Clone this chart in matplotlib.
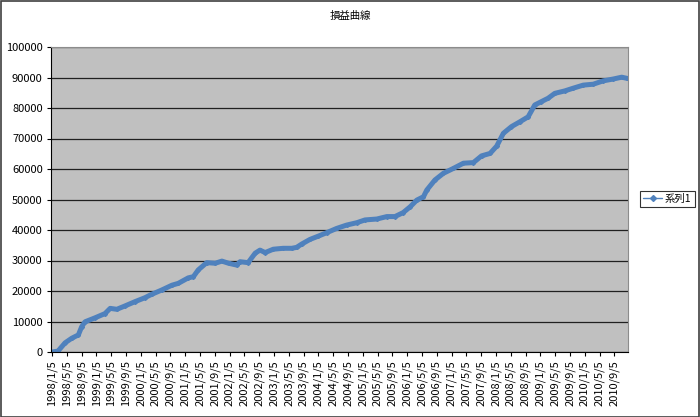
import matplotlib
matplotlib.use('Agg')
import matplotlib.pyplot as plt
from matplotlib.patches import Rectangle

# Equity curve readings: month offset from 1998/1 and cumulative profit
months = [0.0, 1.6, 3.5, 5.3, 7.1, 8.0, 8.9, 11.6, 14.3, 15.7, 17.5, 19.7,
          22.4, 25.1, 26.9, 29.6, 32.4, 34.1, 36.8, 38.2, 39.5, 41.8, 44.1,
          45.9, 47.7, 49.9, 50.8, 53.0, 54.9, 56.2, 57.6, 59.8, 62.5, 64.8,
          66.1, 67.5, 69.7, 72.0, 74.2, 76.9, 79.6, 82.4, 84.6, 87.8, 90.5,
          92.7, 94.9, 96.8, 98.6, 100.4, 101.3, 103.5, 105.8, 108.5, 111.2,
          113.9, 116.1, 118.4, 120.2, 122.0, 124.2, 126.5, 128.7, 130.5,
          132.3, 134.1, 135.9, 138.6, 140.9, 143.6, 146.3, 149.0, 151.7,
          154.0, 155.5]
profit = [0, 300, 3000, 4500, 5600, 8300, 9900, 11200, 12600, 14300, 14000,
          15100, 16500, 17800, 18900, 20300, 21900, 22500, 24300, 24700,
          26900, 29300, 29100, 29800, 29100, 28500, 29600, 29300, 32400,
          33400, 32600, 33700, 34000, 34000, 34300, 35400, 36900, 38000,
          39100, 40500, 41600, 42400, 43300, 43600, 44400, 44400, 45700,
          47600, 49800, 50900, 53100, 56400, 58600, 60200, 61900, 62100,
          64300, 65100, 67500, 71700, 73900, 75500, 77100, 81000, 82100,
          83200, 84800, 85600, 86500, 87500, 87800, 88900, 89500, 90100,
          89700]

# Category labels every 4 months
tick_months = list(range(0, 153, 4))
tick_labels = [f'{1998 + m // 12}/{m % 12 + 1}/5' for m in tick_months]
y_ticks = list(range(0, 100001, 10000))

plt.rcParams['font.family'] = ['Noto Sans CJK JP', 'DejaVu Sans']

fig = plt.figure(figsize=(7.0, 4.17), dpi=100)
ax = fig.add_axes([51 / 700, 1 - 352 / 417, 577 / 700, 305 / 417])

ax.set_facecolor('#c0c0c0')
ax.plot(months, profit, color='#4f81bd', linewidth=3.6, marker='D',
        markersize=2, label='系列1', solid_joinstyle='round',
        solid_capstyle='round')

ax.set_xlim(-0.3, 155.7)
ax.set_ylim(0, 100000)
ax.set_yticks(y_ticks)
ax.set_yticklabels([str(v) for v in y_ticks], fontsize=8)
ax.set_xticks(tick_months)
ax.set_xticklabels(tick_labels, rotation=90, fontsize=8)
ax.tick_params(axis='both', direction='out', length=3, width=0.8,
               color='black', pad=3)

ax.grid(axis='y', color='#202020', linewidth=0.9)
ax.set_axisbelow(True)
for side in ['top', 'right']:
    ax.spines[side].set_color('#8c8c8c')
for side in ['left', 'bottom']:
    ax.spines[side].set_color('black')

fig.text(0.5, 1 - 16 / 417, '損益曲線', ha='center', va='center', fontsize=7.5)

leg = fig.legend(loc='center left', bbox_to_anchor=(640 / 700, 1 - 199 / 417),
                 fontsize=7.5, frameon=True, fancybox=False, handlelength=1.8,
                 borderpad=0.3, handletextpad=0.3, borderaxespad=0)
leg.get_frame().set_edgecolor('black')
leg.get_frame().set_linewidth(0.8)
for h in leg.legend_handles:
    h.set_linewidth(1)
    h.set_markersize(3)

fig.patches.append(Rectangle((0.001, 0.001), 0.998, 0.997, fill=False,
                             edgecolor='#404040', linewidth=1.2,
                             transform=fig.transFigure))

fig.savefig('out.png', dpi=100)
